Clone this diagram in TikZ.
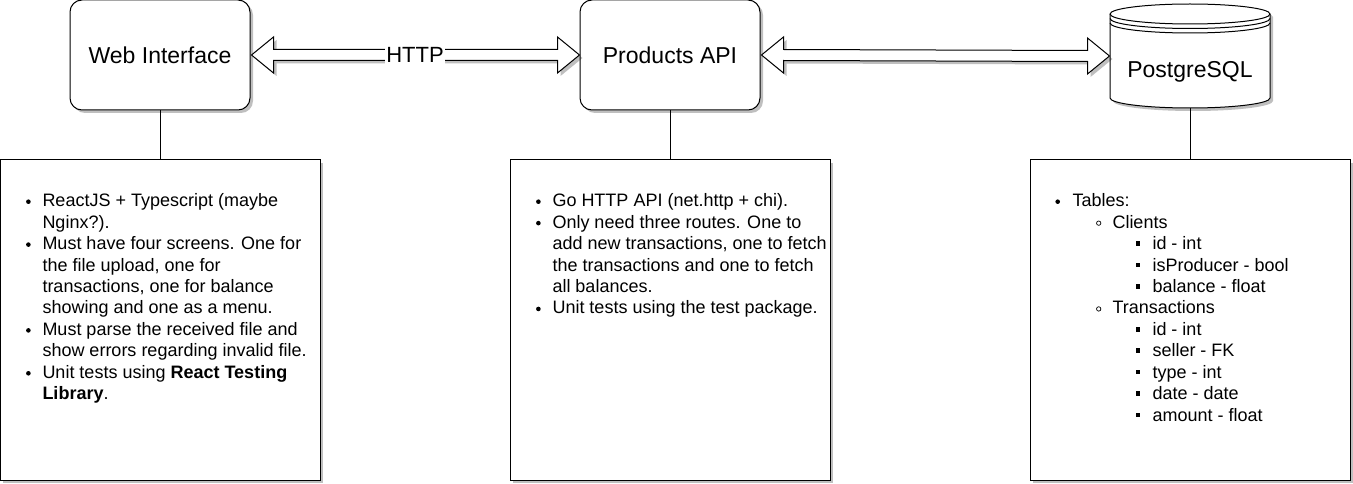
\documentclass[tikz,border=0pt]{standalone}
\usepackage{fontspec}
\setmainfont{Liberation Sans}
\usetikzlibrary{shadows,calc}
\begin{document}
\begin{tikzpicture}[x=1pt,y=-1pt,line width=1pt,
  shd/.style={drop shadow={shadow xshift=3pt,shadow yshift=-3pt,fill=black,opacity=0.25}},
  comp/.style={draw,fill=white,rounded corners=12pt,minimum width=180pt,minimum height=110pt,inner sep=0pt,shd,font=\fontsize{23}{27}\selectfont},
  notebox/.style={draw,fill=white,minimum width=320pt,minimum height=320pt,inner sep=0pt,shd},
  notetext/.style={anchor=base west,inner sep=0pt,font=\fontsize{18}{21.45}\selectfont},
  dblarrow/.style={draw,fill=white,line join=miter,shd},
  link/.style={draw,line width=0.9pt},
  dot/.style={fill=black},
  ring/.style={draw=black,line width=0.7pt,fill=white}
]
\useasboundingbox (0,0) rectangle (1353,484);

% component boxes
\node[comp] (web) at (160,55) {Web Interface};
\node[comp] (api) at (670,55) {Products API};

% database cylinder
\node[minimum width=160pt,minimum height=104pt,inner sep=0pt] (db) at (1190,56) {};
\path[draw,fill=white,shd] (1110,14) -- (1110,98)
  .. controls (1110,103.5) and (1145.8,108) .. (1190,108)
  .. controls (1234.2,108) and (1270,103.5) .. (1270,98)
  -- (1270,14)
  .. controls (1270,8.5) and (1234.2,4) .. (1190,4)
  .. controls (1145.8,4) and (1110,8.5) .. (1110,14) -- cycle;
\foreach \yy in {14,18.5,23}{
  \draw (1110,\yy) .. controls (1110,\yy+5.5) and (1145.8,\yy+10) .. (1190,\yy+10)
    .. controls (1234.2,\yy+10) and (1270,\yy+5.5) .. (1270,\yy);
}
\node[font=\fontsize{23}{27}\selectfont,inner sep=0pt] (dbt) at (1190,72) {PostgreSQL};

% note boxes
\node[notebox] (n1) at (160,320) {};
\node[notebox] (n2) at (670,320) {};
\node[notebox] (n3) at (1190,320) {};

% links
\draw[link] (web.south) -- (n1.north);
\draw[link] (api.south) -- (n2.north);
\draw[link] (db.south) -- (n3.north);

% double arrows
\coordinate (a1) at ($(web.east)+(1,0)$);
\coordinate (a2) at (api.west);
\path[dblarrow] (a1) -- ++(22,-18) -- ++(0,12.5) -- ($(a2)+(-22,-5.5)$) -- ++(0,-12.5)
  -- (a2) -- ++(-22,18) -- ++(0,-12.5) -- ($(a1)+(22,5.5)$) -- ++(0,12.5) -- cycle;
\coordinate (b1) at ($(api.east)+(1,0)$);
\coordinate (b2) at (db.west);
\path[dblarrow] (b1) -- ++(22,-18) -- ++(0,12.5) -- ($(b2)+(-22,-5.5)$) -- ++(0,-12.5)
  -- (b2) -- ++(-22,18) -- ++(0,-12.5) -- ($(b1)+(22,5.5)$) -- ++(0,12.5) -- cycle;
\node[fill=white,inner sep=1pt,font=\fontsize{22}{26}\selectfont] (http) at (415,55) {HTTP};

% note texts
\node[notetext] (t1) at (42,206.7) {\parbox[t]{400pt}{\raggedright
ReactJS + Typescript (maybe\\
Nginx?).\\
Must have four screens. One for\\
the file upload, one for\\
transactions, one for balance\\
showing and one as a menu.\\
Must parse the received file and\\
show errors regarding invalid file.\\
Unit tests using \textbf{React Testing}\\
\textbf{Library}.}};

\node[notetext] (t2) at (552,206.7) {\parbox[t]{400pt}{\raggedright
Go HTTP API (net.http + chi).\\
Only need three routes. One to\\
add new transactions, one to fetch\\
the transactions and one to fetch\\
all balances.\\
Unit tests using the test package.}};

\node[notetext] (t3) at (1072,206.7) {\parbox[t]{400pt}{\raggedright
Tables:\\
\hspace*{40pt}Clients\\
\hspace*{80pt}id - int\\
\hspace*{80pt}isProducer - bool\\
\hspace*{80pt}balance - float\\
\hspace*{40pt}Transactions\\
\hspace*{80pt}id - int\\
\hspace*{80pt}seller - FK\\
\hspace*{80pt}type - int\\
\hspace*{80pt}date - date\\
\hspace*{80pt}amount - float}};

% bullets
\foreach \i in {0,2,6,8}{ \fill[dot] (28.4,206.7+21.45*\i-5) circle (2.3pt); }
\foreach \i in {0,1,5}{ \fill[dot] (538.4,206.7+21.45*\i-5) circle (2.3pt); }
\fill[dot] (1057.7,201.7) circle (2.3pt);
\foreach \i in {1,5}{ \draw[ring] (1098.7,206.7+21.45*\i-5) circle (2.2pt); }
\foreach \i in {2,3,4,6,7,8,9,10}{ \fill[dot] (1135.8,206.7+21.45*\i-8.4) rectangle ++(4.5,4.5); }
\end{tikzpicture}
\end{document}
